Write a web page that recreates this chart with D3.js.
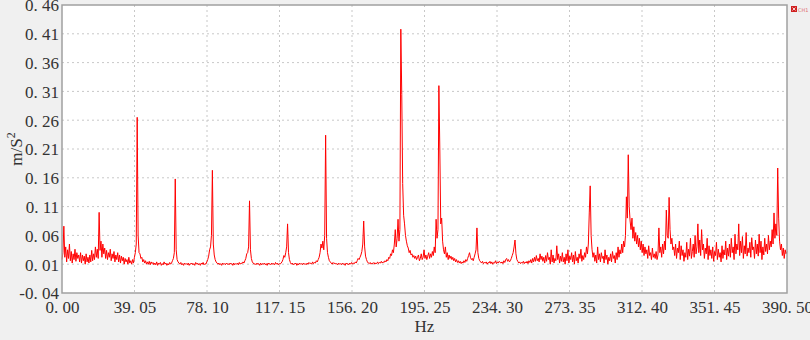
<!DOCTYPE html>
<meta charset="utf-8">
<style type="text/css">
  body { margin: 0; background: #f0f0f0; }
  .tick text { font-family: "Liberation Serif", "Times New Roman", serif; font-size: 17px; fill: #333; }
  .grid line { stroke: #c8c8c8; stroke-dasharray: 2,3; }
</style>
<svg width="810" height="340"></svg>
<script src="https://d3js.org/d3.v7.min.js"></script>
<script>

// spectrum amplitude in thousandths of m/s^2, one value every 0.5 Hz (0 .. 390.5 Hz)
var amp = [
  18,30,76,22,40,14,35,20,45,16,32,12,28,18,36,15,30,20,26,14,   // 0-10
  30,12,26,16,24,10,28,14,22,12,26,14,34,16,28,18,40,22,36,20,   // 10-20
  100,34,50,22,45,28,38,20,34,18,30,22,36,16,28,20,32,14,26,18,  // 20-30
  30,14,26,12,24,16,22,10,20,14,18,10,22,12,16,10,18,12,22,30,   // 30-40
  45,265,60,30,28,20,22,14,18,12,16,10,14,10,15,9,14,11,13,9,    // 40-50
  12,9,14,8,12,10,13,8,11,9,14,10,12,8,11,9,13,10,12,16,         // 50-60
  20,30,158,35,18,14,12,10,13,9,11,8,12,10,11,9,12,8,11,10,      // 60-70
  12,9,11,8,13,10,12,9,11,8,12,10,13,9,11,10,14,18,24,35,        // 70-80
  40,60,173,45,26,18,14,12,10,12,9,11,8,12,10,11,9,12,10,11,     // 80-90
  9,12,10,11,8,12,9,11,10,12,9,13,10,12,11,14,12,16,20,28,       // 90-100
  30,40,120,35,20,14,12,10,11,9,12,10,11,8,12,9,11,10,12,9,      // 100-110
  11,8,12,10,11,9,12,10,11,9,13,10,12,9,11,10,12,14,18,25,       // 110-120
  22,30,40,80,30,18,13,10,12,9,11,10,12,8,11,9,12,10,11,9,       // 120-130
  12,10,11,9,12,10,13,11,12,10,14,11,13,12,16,14,18,22,30,45,    // 130-140
  38,50,35,60,234,55,30,22,16,14,12,10,13,11,12,10,11,9,12,10,   // 140-150
  11,9,12,10,11,8,12,10,11,9,12,10,13,10,12,11,14,12,16,20,      // 150-160
  18,22,26,32,45,85,40,24,18,14,12,11,13,10,12,11,13,10,12,11,   // 160-170
  14,11,13,12,15,12,14,13,16,14,18,16,22,20,28,25,35,30,45,70,   // 170-180
  40,55,88,50,70,418,305,150,95,80,60,50,42,38,30,34,26,28,22,25, // 180-190
  20,24,18,22,26,16,20,28,18,22,35,20,26,18,24,30,20,28,22,32,   // 190-200
  25,40,30,88,55,70,320,210,80,90,50,35,28,40,22,30,18,26,20,24, // 200-210
  18,22,16,20,14,18,13,16,12,15,11,14,12,16,13,18,15,20,25,30,   // 210-220
  22,18,20,16,22,28,35,73,30,20,16,14,12,15,11,13,12,14,10,13,   // 220-230
  12,15,11,14,10,13,12,16,11,14,12,15,13,12,14,11,16,13,18,20,   // 230-240
  15,18,14,16,20,25,30,40,52,28,18,15,12,14,11,13,12,15,11,14,   // 240-250
  12,15,11,16,13,18,12,20,14,22,15,25,16,20,14,28,18,24,15,22,   // 250-260
  12,25,15,30,18,22,10,35,14,26,12,20,16,42,18,28,12,24,15,30,   // 260-270
  14,22,10,28,16,35,12,24,18,30,14,26,10,32,16,22,12,28,20,36,   // 270-280
  15,25,18,30,22,40,28,45,99,146,60,35,22,30,15,26,12,40,18,28,  // 280-290
  14,30,20,24,12,35,18,26,10,22,16,28,14,32,20,25,12,30,18,40,   // 290-300
  22,35,28,45,30,50,40,60,127,90,200,110,85,70,90,55,75,50,65,45, // 300-310
  60,40,55,35,50,30,45,25,40,28,35,20,42,25,30,18,38,22,28,20,   // 310-320
  32,18,26,73,30,40,22,45,28,50,35,104,60,55,126,70,45,55,35,40, // 320-330
  25,45,20,38,30,50,18,42,25,35,15,30,22,48,18,36,24,55,20,32,   // 330-340
  45,22,60,28,40,80,30,52,25,70,35,45,20,38,28,55,18,42,25,35,   // 340-350
  20,40,15,32,25,48,18,36,22,30,14,42,20,35,26,50,18,38,24,45,   // 350-360
  22,55,30,40,18,62,28,45,35,80,25,50,30,58,20,42,28,65,24,38,   // 360-370
  30,48,22,56,35,40,20,52,28,45,24,62,30,50,18,40,26,55,32,45,   // 370-380
  28,60,35,50,40,70,45,99,55,80,60,177,90,50,35,45,25,38,20,35,28,32 // 380-390.5
];
var step = 0.5;

var xTicks = [0, 39.05, 78.10, 117.15, 156.20, 195.25, 234.30, 273.35, 312.40, 351.45, 390.50];
var yTicks = [-0.04, 0.01, 0.06, 0.11, 0.16, 0.21, 0.26, 0.31, 0.36, 0.41, 0.46];

var data = amp.map(function(v, i) { return {hz: i * step, v: v / 1000}; });

var svg = d3.select("svg"),
    margin = {top: 5, right: 23, bottom: 47, left: 62},
    width = +svg.attr("width") - margin.left - margin.right,
    height = +svg.attr("height") - margin.top - margin.bottom,
    g = svg.append("g").attr("transform", "translate(" + margin.left + "," + margin.top + ")");

var x = d3.scaleLinear().domain([0, 390.5]).range([0, width]);
var y = d3.scaleLinear().domain([-0.04, 0.46]).range([height, 0]);

var fmt = function(d) { return d3.format(".2f")(d).replace("−", "-").replace(".", ". "); };

g.append("rect")
    .attr("width", width)
    .attr("height", height)
    .attr("fill", "#fff");

// grid
g.append("g")
    .attr("class", "grid")
    .selectAll("line.h")
    .data(yTicks.slice(1, -1))
  .enter().append("line")
    .attr("x1", 0).attr("x2", width)
    .attr("y1", function(d) { return y(d); })
    .attr("y2", function(d) { return y(d); });
g.append("g")
    .attr("class", "grid")
    .selectAll("line.v")
    .data(xTicks.slice(1, -1))
  .enter().append("line")
    .attr("y1", 0).attr("y2", height)
    .attr("x1", function(d) { return x(d); })
    .attr("x2", function(d) { return x(d); });

var line = d3.line()
    .x(function(d) { return x(d.hz); })
    .y(function(d) { return y(d.v); });

g.append("path")
    .datum(data)
    .attr("fill", "none")
    .attr("stroke", "#ff0000")
    .attr("stroke-width", 1)
    .attr("stroke-linejoin", "round")
    .attr("d", line);

// frame
g.append("rect")
    .attr("width", width)
    .attr("height", height)
    .attr("fill", "none")
    .attr("stroke", "#a0a0a0")
    .attr("stroke-width", 1.5);

var xAxis = g.append("g")
    .attr("transform", "translate(0," + height + ")")
    .call(d3.axisBottom(x).tickValues(xTicks).tickFormat(fmt).tickSize(0).tickPadding(8));
var yAxis = g.append("g")
    .call(d3.axisLeft(y).tickValues(yTicks).tickFormat(fmt).tickSize(0).tickPadding(3));
xAxis.select(".domain").remove();
yAxis.select(".domain").remove();
yAxis.selectAll(".tick text").attr("dy", "0.35em");

g.append("text")
    .attr("x", width / 2)
    .attr("y", height + 39)
    .attr("text-anchor", "middle")
    .style("font-family", "'Liberation Serif', 'Times New Roman', serif")
    .style("font-size", "17px")
    .attr("fill", "#333")
    .text("Hz");

var yl = svg.append("text")
    .attr("transform", "translate(22," + (margin.top + height / 2) + ") rotate(-90)")
    .attr("text-anchor", "middle")
    .style("font-family", "'Liberation Serif', 'Times New Roman', serif")
    .style("font-size", "17px")
    .attr("fill", "#333");
yl.append("tspan").text("m/S");
yl.append("tspan").attr("dy", "-7").style("font-size", "12px").text("2");

// legend
var lg = svg.append("g").attr("transform", "translate(" + (margin.left + width + 4) + ",6)");
lg.append("rect").attr("width", 6).attr("height", 6).attr("fill", "#d02020");
lg.append("path").attr("d", "M1.5,1.5L4.5,4.5M4.5,1.5L1.5,4.5").attr("stroke", "#fff").attr("stroke-width", 0.8);
lg.append("text").attr("x", 7).attr("y", 5.5)
    .style("font-family", "'DejaVu Sans', sans-serif").style("font-size", "5px")
    .attr("fill", "#e07070").text("CH1");

</script>
